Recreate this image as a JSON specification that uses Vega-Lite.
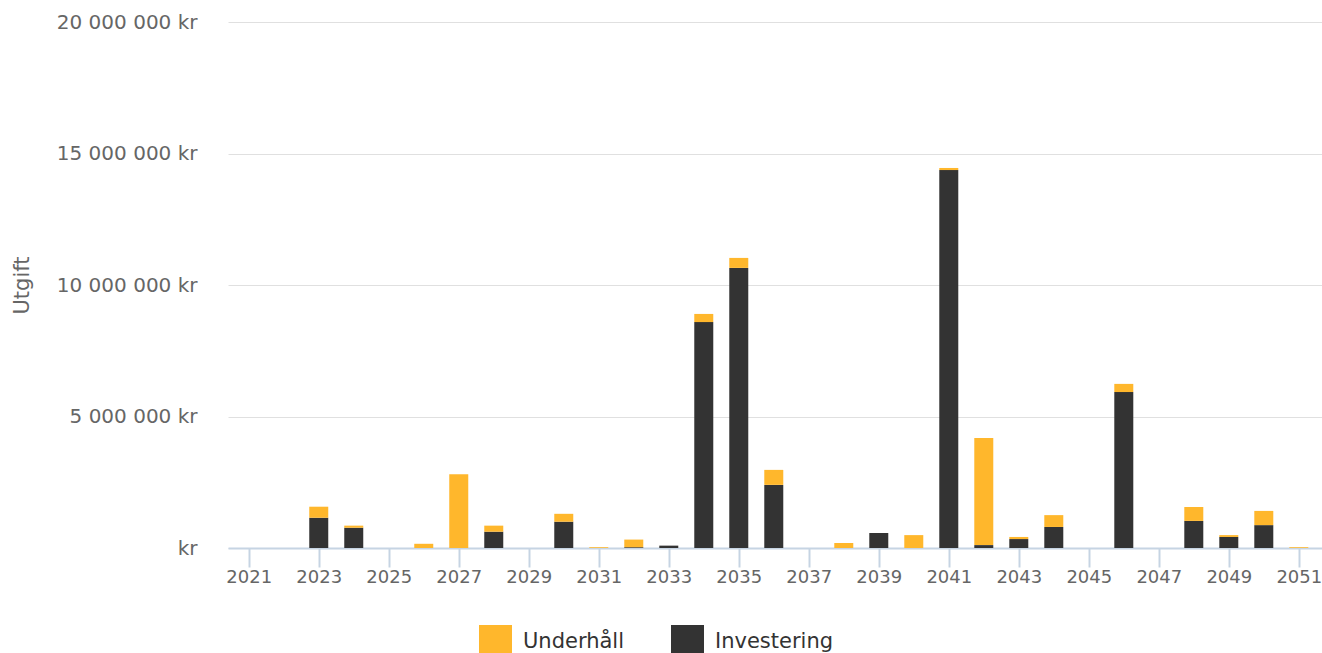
{
  "$schema": "https://vega.github.io/schema/vega-lite/v6.json",
  "autosize": {"type": "none"},
  "padding": {"left": 228, "top": 22, "right": 0, "bottom": 105},
  "width": 1094,
  "height": 526,
  "background": "#ffffff",
  "config": {
    "view": {"stroke": null},
    "font": "DejaVu Sans"
  },
  "data": {
    "values": [
      {"year": 2023, "typ": "Investering", "value": 1150000},
      {"year": 2024, "typ": "Investering", "value": 770000},
      {"year": 2028, "typ": "Investering", "value": 620000},
      {"year": 2030, "typ": "Investering", "value": 1000000},
      {"year": 2032, "typ": "Investering", "value": 30000},
      {"year": 2033, "typ": "Investering", "value": 90000},
      {"year": 2034, "typ": "Investering", "value": 8590000},
      {"year": 2035, "typ": "Investering", "value": 10650000},
      {"year": 2036, "typ": "Investering", "value": 2400000},
      {"year": 2039, "typ": "Investering", "value": 570000},
      {"year": 2041, "typ": "Investering", "value": 14370000},
      {"year": 2042, "typ": "Investering", "value": 110000},
      {"year": 2043, "typ": "Investering", "value": 340000},
      {"year": 2044, "typ": "Investering", "value": 800000},
      {"year": 2046, "typ": "Investering", "value": 5930000},
      {"year": 2048, "typ": "Investering", "value": 1030000},
      {"year": 2049, "typ": "Investering", "value": 420000},
      {"year": 2050, "typ": "Investering", "value": 870000},
      {"year": 2023, "typ": "Underhåll", "value": 420000},
      {"year": 2024, "typ": "Underhåll", "value": 80000},
      {"year": 2026, "typ": "Underhåll", "value": 160000},
      {"year": 2027, "typ": "Underhåll", "value": 2800000},
      {"year": 2028, "typ": "Underhåll", "value": 230000},
      {"year": 2030, "typ": "Underhåll", "value": 300000},
      {"year": 2031, "typ": "Underhåll", "value": 30000},
      {"year": 2032, "typ": "Underhåll", "value": 290000},
      {"year": 2034, "typ": "Underhåll", "value": 310000},
      {"year": 2035, "typ": "Underhåll", "value": 380000},
      {"year": 2036, "typ": "Underhåll", "value": 570000},
      {"year": 2038, "typ": "Underhåll", "value": 190000},
      {"year": 2040, "typ": "Underhåll", "value": 490000},
      {"year": 2041, "typ": "Underhåll", "value": 80000},
      {"year": 2042, "typ": "Underhåll", "value": 4070000},
      {"year": 2043, "typ": "Underhåll", "value": 80000},
      {"year": 2044, "typ": "Underhåll", "value": 450000},
      {"year": 2046, "typ": "Underhåll", "value": 310000},
      {"year": 2048, "typ": "Underhåll", "value": 530000},
      {"year": 2049, "typ": "Underhåll", "value": 70000},
      {"year": 2050, "typ": "Underhåll", "value": 540000},
      {"year": 2051, "typ": "Underhåll", "value": 30000}
    ]
  },
  "mark": {"type": "bar", "size": 19},
  "encoding": {
    "x": {
      "field": "year",
      "type": "quantitative",
      "scale": {"domain": [2020.55, 2051.52], "nice": false, "zero": false},
      "axis": {
        "title": null,
        "values": [2021, 2023, 2025, 2027, 2029, 2031, 2033, 2035, 2037, 2039, 2041, 2043, 2045, 2047, 2049, 2051],
        "format": "d",
        "grid": false,
        "domainColor": "#c6d4e3",
        "domainWidth": 2,
        "tickColor": "#c6d4e3",
        "tickWidth": 2,
        "tickSize": 19,
        "labelPadding": 1,
        "labelFont": "DejaVu Sans",
        "labelFontSize": 18,
        "labelColor": "#666666",
        "labelFlush": false,
        "labelOverlap": false
      }
    },
    "y": {
      "field": "value",
      "type": "quantitative",
      "stack": "zero",
      "scale": {"domain": [0, 20000000], "nice": false},
      "axis": {
        "title": "Utgift",
        "values": [0, 5000000, 10000000, 15000000, 20000000],
        "labelExpr": "datum.value == 0 ? 'kr' : join(split(format(datum.value, ','), ','), ' ') + ' kr'",
        "grid": true,
        "gridColor": "#e0e0e0",
        "gridWidth": 1,
        "domain": false,
        "ticks": false,
        "labelPadding": 31,
        "labelFont": "DejaVu Sans",
        "labelFontSize": 20,
        "labelColor": "#666666",
        "titleFont": "DejaVu Sans",
        "titleFontSize": 21,
        "titleFontWeight": "normal",
        "titleColor": "#666666",
        "titleAngle": -90,
        "titleAlign": "center",
        "titleBaseline": "middle",
        "titleX": -206,
        "titleY": 263
      }
    },
    "color": {
      "field": "typ",
      "type": "nominal",
      "scale": {"domain": ["Underhåll", "Investering"], "range": ["#ffb72c", "#333333"]},
      "legend": {
        "title": null,
        "orient": "none",
        "direction": "horizontal",
        "legendX": 251,
        "legendY": 603,
        "padding": 0,
        "symbolType": "square",
        "symbolSize": 1089,
        "symbolStrokeWidth": 0,
        "symbolOpacity": 1,
        "labelFont": "DejaVu Sans",
        "labelFontSize": 21,
        "labelColor": "#333333",
        "labelOffset": 11,
        "columnPadding": 46,
        "labelLimit": 300
      }
    },
    "order": {"field": "typ", "sort": "ascending"}
  }
}
